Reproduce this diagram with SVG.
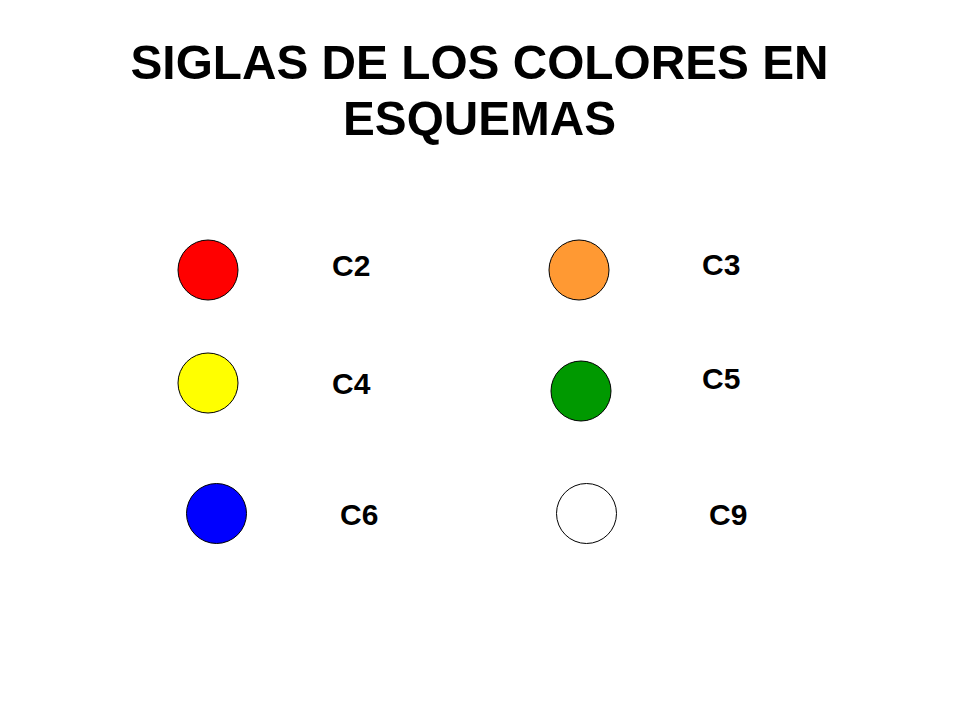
<svg xmlns="http://www.w3.org/2000/svg" width="960" height="720" viewBox="0 0 960 720">
  <style>
    .title { font-family: "Liberation Sans", Arial, sans-serif; font-weight: bold; font-size: 49px; fill: #000; text-anchor: middle; }
    .lbl { font-family: "Liberation Sans", Arial, sans-serif; font-weight: bold; font-size: 30px; fill: #000; }
    .dot { stroke: #000; stroke-width: 1; }
  </style>
  <rect width="960" height="720" fill="#fff"/>
  <g id="title">
    <text class="title" x="479.5" y="79" textLength="698" lengthAdjust="spacingAndGlyphs">SIGLAS DE LOS COLORES EN</text>
    <text class="title" x="479.5" y="135" textLength="273" lengthAdjust="spacingAndGlyphs">ESQUEMAS</text>
  </g>
  <g id="c2">
    <circle class="dot" cx="208" cy="270" r="30" fill="#FF0000"/>
    <text class="lbl" x="332" y="275.5">C2</text>
  </g>
  <g id="c3">
    <circle class="dot" cx="579" cy="270" r="30" fill="#FF9933"/>
    <text class="lbl" x="702" y="275">C3</text>
  </g>
  <g id="c4">
    <circle class="dot" cx="208" cy="383" r="30" fill="#FFFF00"/>
    <text class="lbl" x="332" y="394">C4</text>
  </g>
  <g id="c5">
    <circle class="dot" cx="581" cy="391" r="30" fill="#009900"/>
    <text class="lbl" x="702" y="388.5">C5</text>
  </g>
  <g id="c6">
    <circle class="dot" cx="216.5" cy="513.5" r="30" fill="#0000FF"/>
    <text class="lbl" x="340" y="525">C6</text>
  </g>
  <g id="c9">
    <circle class="dot" cx="586.5" cy="513.5" r="30" fill="#FFFFFF"/>
    <text class="lbl" x="709" y="525">C9</text>
  </g>
  <g id="connectors"></g>
</svg>
